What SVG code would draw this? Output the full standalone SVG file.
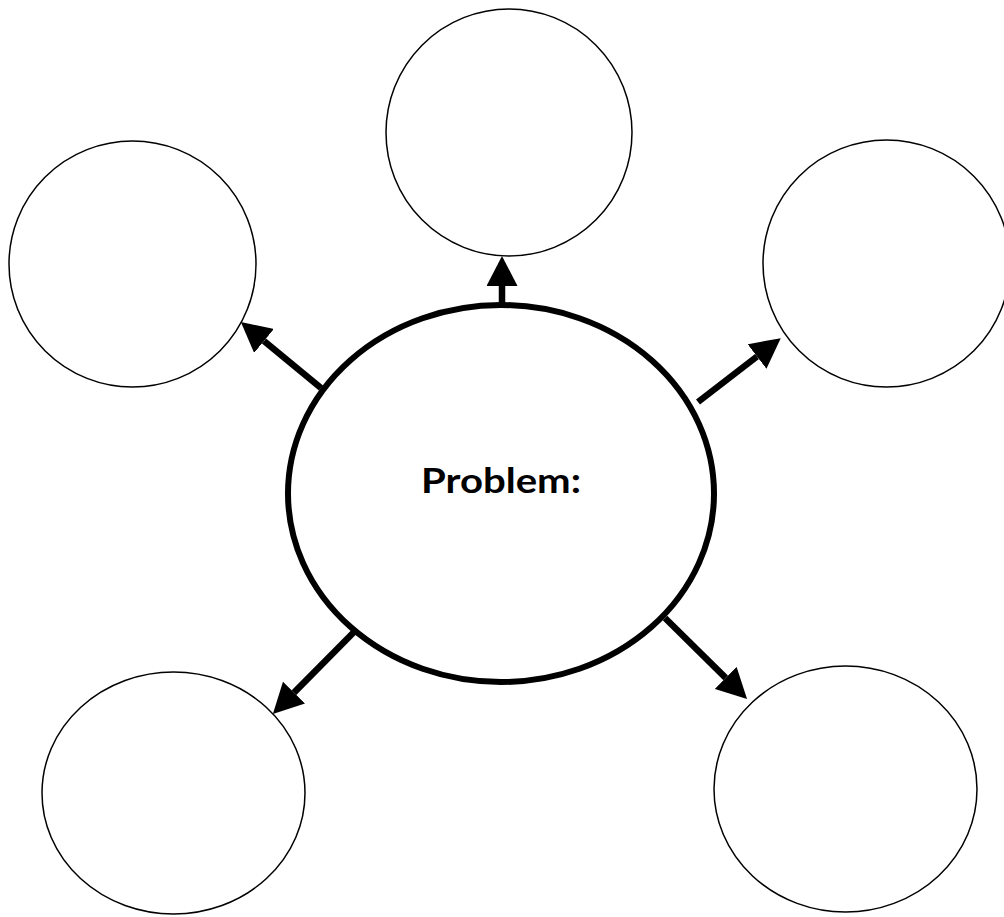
<svg xmlns="http://www.w3.org/2000/svg" width="1004" height="917" viewBox="0 0 1004 917">
<style>
.small{fill:#fff;stroke:#000;stroke-width:1.5}
.main{fill:#fff;stroke:#000;stroke-width:6}
.conn{stroke:#000;stroke-width:6.5;fill:none;marker-end:url(#ah)}
.lbl{font-family:Lato,"Open Sans",sans-serif;font-weight:bold;font-size:34px;fill:#000}
</style>
<defs>
<marker id="ah" markerUnits="userSpaceOnUse" viewBox="0 0 30 31" refX="0" refY="15.5" markerWidth="30" markerHeight="31" orient="auto">
<path d="M0,0 L30,15.5 L0,31 Z" fill="#000"/>
</marker>
</defs>
<rect width="1004" height="917" fill="#fff"/>
<g id="connectors">
<line class="conn" x1="502" y1="303" x2="502" y2="286"/>
<line class="conn" x1="321" y1="388" x2="264" y2="341"/>
<line class="conn" x1="698" y1="402" x2="757" y2="356.5"/>
<line class="conn" x1="354" y1="632" x2="294" y2="692.6"/>
<line class="conn" x1="665" y1="618" x2="725.7" y2="677.9"/>
</g>
<g id="node-top"><ellipse class="small" cx="509" cy="132.5" rx="123" ry="123.5"/></g>
<g id="node-left"><ellipse class="small" cx="132.5" cy="264" rx="123.5" ry="123"/></g>
<g id="node-right"><ellipse class="small" cx="886.5" cy="263.5" rx="123.5" ry="123.5"/></g>
<g id="node-bottom-left"><ellipse class="small" cx="173.5" cy="793" rx="131.5" ry="121"/></g>
<g id="node-bottom-right"><ellipse class="small" cx="845.5" cy="789" rx="131.5" ry="123"/></g>
<g id="node-problem">
<ellipse class="main" cx="501" cy="493.5" rx="213" ry="188.5"/>
<text class="lbl" x="501" y="493" text-anchor="middle" textLength="160" lengthAdjust="spacingAndGlyphs">Problem:</text>
</g>
</svg>
